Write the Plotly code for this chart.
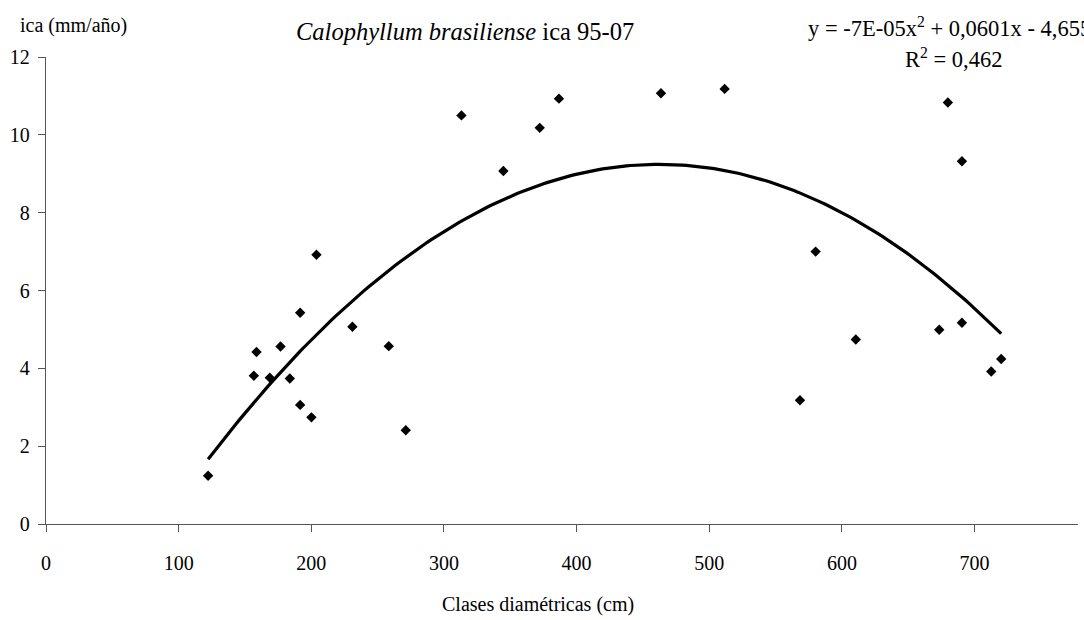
import numpy as np
import plotly.graph_objects as go

# Data
diam_cm = [122.2, 156.7, 158.7, 168.7, 176.8, 183.8, 191.6, 191.6, 200.1, 203.9,
           231.0, 258.4, 271.2, 313.2, 344.8, 372.2, 386.7, 463.6, 511.6, 568.4,
           580.2, 610.5, 673.4, 679.9, 690.5, 690.5, 712.6, 720.1]
ica_mm = [1.24, 3.81, 4.42, 3.76, 4.56, 3.74, 5.43, 3.06, 2.74, 6.92,
          5.07, 4.57, 2.41, 10.50, 9.07, 10.18, 10.93, 11.07, 11.18, 3.18,
          7.00, 4.74, 4.99, 10.83, 9.32, 5.17, 3.92, 4.24]

x_ticks = [0, 100, 200, 300, 400, 500, 600, 700]
y_ticks = [0, 2, 4, 6, 8, 10, 12]

title_text = "<i>Calophyllum brasiliense</i> ica 95-07"
eq_text = "y = -7E-05x<sup>2</sup> + 0,0601x - 4,655"
r2_text = "R<sup>2</sup> = 0,462"
y_title = "ica (mm/año)"
x_title = "Clases diamétricas (cm)"

# polynomial trendline (order 2) fitted to the data, as Excel does
coef = np.polyfit(diam_cm, ica_mm, 2)
xt = np.linspace(min(diam_cm), max(diam_cm), 200)
yt = np.polyval(coef, xt)

FONT = "Liberation Serif"
W, H = 1084, 620
L, R, T, B = 46, 6, 56.6, 96
pw, ph = W - L - R, H - T - B

def px(x):
    return (x - L) / pw

def py(y):
    return (H - B - y) / ph

fig = go.Figure()
fig.add_trace(go.Scatter(x=xt, y=yt, mode="lines",
                         line=dict(color="black", width=3.2),
                         hoverinfo="skip", showlegend=False))
fig.add_trace(go.Scatter(x=diam_cm, y=ica_mm, mode="markers",
                         marker=dict(symbol="diamond", size=8, color="black"),
                         showlegend=False))

axis_common = dict(showgrid=False, zeroline=False, showline=True, automargin=False,
                   linecolor="#555", linewidth=1.3, ticks="outside",
                   ticklen=7, tickcolor="#555", tickwidth=1.3,
                   tickfont=dict(family=FONT, size=20, color="black"))
fig.update_xaxes(range=[0, 778], tickvals=x_ticks, ticklabelstandoff=14, **axis_common)
fig.update_yaxes(range=[0, 12], tickvals=y_ticks, ticklabelstandoff=4, **axis_common)

ann = [
    dict(text=title_text, x=px(465), y=py(31), xanchor="center", yanchor="middle",
         font=dict(size=24.5)),
    dict(text=eq_text, x=px(806), y=py(27), xanchor="left", yanchor="middle",
         font=dict(size=22.5)),
    dict(text=r2_text, x=px(903), y=py(58), xanchor="left", yanchor="middle",
         font=dict(size=22.5)),
    dict(text=y_title, x=px(18), y=py(25), xanchor="left", yanchor="middle",
         font=dict(size=20)),
    dict(text=x_title, x=px(538), y=py(605), xanchor="center", yanchor="middle",
         font=dict(size=20)),
]
for a in ann:
    a.update(xref="paper", yref="paper", showarrow=False)
    a["font"].update(family=FONT, color="black")

fig.update_layout(width=W, height=H, margin=dict(l=L, r=R, t=T, b=B),
                  paper_bgcolor="white", plot_bgcolor="white",
                  font=dict(family=FONT, color="black"),
                  annotations=ann, showlegend=False)

fig.write_html("out.html", config={"displayModeBar": False},
               post_script="document.body.style.margin='0';document.body.style.overflow='hidden';")
